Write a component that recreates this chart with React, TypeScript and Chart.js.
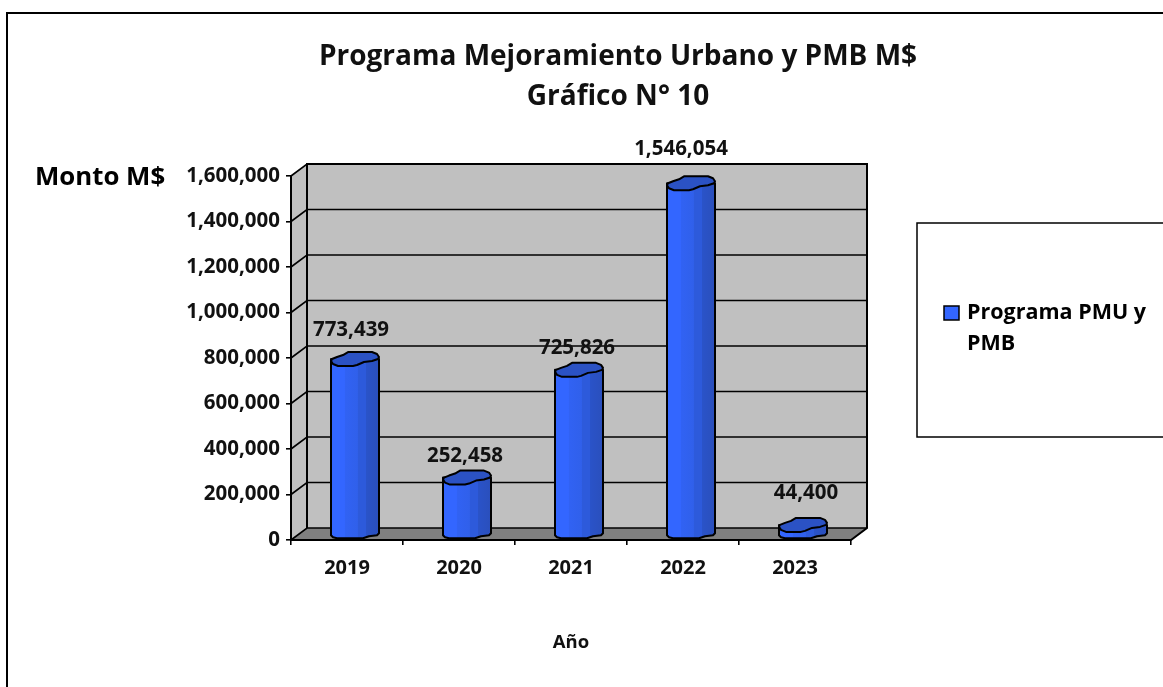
import React, { useEffect, useRef } from "react";
import { Chart, registerables } from "chart.js";

Chart.register(...registerables);

const categories = ["2019", "2020", "2021", "2022", "2023"];
const seriesName = ["Programa PMU y", "PMB"];
const values = [773439, 252458, 725826, 1546054, 44400];
const titleLines = ["Programa Mejoramiento Urbano y PMB M$", "Gráfico N° 10"];
const yTitle = "Monto M$";
const xTitle = "Año";
const labelShiftX = [-4, -2, -2, -10, 3];
const labelShiftY = [-34, -26, -27, -39, -37];

const FONT = "'Open Sans'";
const DX = 16;
const DY = 12;
const CYL_LIFT = 5;
const topShape: [number, number][] = [
  [-24, 2], [-23, 0], [-18, -2], [-12, -4], [-7, -7], [17, -7], [22, -5], [24, -2], [23, 0], [17, 2], [9, 3], [2, 6], [-2, 7], [-17, 7], [-22, 5],
];
const baseShape: [number, number][] = [
  [-24, 1], [-22, 3], [-18, 4], [8, 4], [14, 2], [22, 1], [24, -1],
];
const bodyStops: [number, string][] = [
  [0, "#3366FF"], [0.28, "#3366FF"], [0.3, "#3162F3"], [0.55, "#3060EB"], [0.57, "#2D5ADB"], [0.72, "#2D5ADB"], [0.74, "#2A53C8"], [1, "#2A4FBC"],
];

const scenePlugin = {
  id: "scene",
  afterLayout(chart: any) {
    chart.titleBlock.left = 73;
    chart.titleBlock.right = 1163;
  },
  beforeDraw(chart: any) {
    const { ctx, scales, width, height } = chart;
    const y = scales.y;
    const a = chart.chartArea;
    ctx.save();
    ctx.fillStyle = "#fff";
    ctx.fillRect(0, 0, width, height);
    ctx.strokeStyle = "#000";
    ctx.lineWidth = 2;
    ctx.beginPath();
    ctx.moveTo(7, height);
    ctx.lineTo(7, 13);
    ctx.lineTo(width, 13);
    ctx.stroke();

    // side wall, back wall, floor
    ctx.fillStyle = "#C0C0C0";
    ctx.beginPath();
    ctx.moveTo(a.left, a.bottom);
    ctx.lineTo(a.left, a.top);
    ctx.lineTo(a.left + DX, a.top - DY);
    ctx.lineTo(a.right + DX, a.top - DY);
    ctx.lineTo(a.right + DX, a.bottom - DY);
    ctx.lineTo(a.right, a.bottom);
    ctx.closePath();
    ctx.fill();
    ctx.fillStyle = "#808080";
    ctx.beginPath();
    ctx.moveTo(a.left, a.bottom);
    ctx.lineTo(a.left + DX, a.bottom - DY);
    ctx.lineTo(a.right + DX, a.bottom - DY);
    ctx.lineTo(a.right, a.bottom);
    ctx.closePath();
    ctx.fill();

    ctx.lineWidth = 1.6;
    for (const t of y.ticks) {
      const py = y.getPixelForValue(t.value);
      ctx.beginPath();
      ctx.moveTo(a.left, py);
      ctx.lineTo(a.left + DX, py - DY);
      ctx.lineTo(a.right + DX, py - DY);
      ctx.stroke();
    }
    ctx.lineWidth = 2;
    ctx.beginPath();
    ctx.moveTo(a.left + DX, a.bottom - DY);
    ctx.lineTo(a.left + DX, a.top - DY);
    ctx.lineTo(a.right + DX, a.top - DY);
    ctx.lineTo(a.right + DX, a.bottom - DY);
    ctx.lineTo(a.right, a.bottom);
    ctx.lineTo(a.left, a.bottom);
    ctx.stroke();
    ctx.restore();
  },
  beforeDatasetDraw(chart: any, args: any) {
    const { ctx } = chart;
    const meta = chart.getDatasetMeta(args.index);
    meta.data.forEach((el: any) => {
      const cx = el.x + DX / 2;
      const r = el.width / 2;
      const topY = el.y - CYL_LIFT;
      const baseY = el.base - CYL_LIFT;
      const k = r / 24;
      const grad = ctx.createLinearGradient(cx - r, 0, cx + r, 0);
      bodyStops.forEach(([o, c]) => grad.addColorStop(o, c));
      ctx.save();
      ctx.lineJoin = "round";
      ctx.strokeStyle = "#000";
      ctx.lineWidth = 2;
      ctx.fillStyle = grad;
      ctx.beginPath();
      ctx.moveTo(cx - r, topY);
      ctx.lineTo(cx + r, topY);
      baseShape.slice().reverse().forEach(([px, py]) => ctx.lineTo(cx + px * k, baseY + py));
      ctx.closePath();
      ctx.fill();
      ctx.stroke();
      ctx.fillStyle = "#2B52C4";
      ctx.beginPath();
      topShape.forEach(([px, py], i) => {
        if (i === 0) ctx.moveTo(cx + px * k, topY + py);
        else ctx.lineTo(cx + px * k, topY + py);
      });
      ctx.closePath();
      ctx.fill();
      ctx.stroke();
      ctx.restore();
    });
    return false;
  },
  afterDatasetsDraw(chart: any) {
    const { ctx } = chart;
    const meta = chart.getDatasetMeta(0);
    ctx.save();
    ctx.fillStyle = "#111";
    ctx.font = `bold 20.5px ${FONT}`;
    ctx.textAlign = "center";
    ctx.textBaseline = "middle";
    meta.data.forEach((el: any, i: number) => {
      const text = values[i].toLocaleString("en-US");
      ctx.fillText(text, el.x + DX / 2 + labelShiftX[i], el.y + labelShiftY[i]);
    });
    ctx.restore();
  },
  afterDraw(chart: any) {
    const { ctx, width } = chart;
    const a = chart.chartArea;
    ctx.save();
    ctx.fillStyle = "#000";
    ctx.textBaseline = "middle";
    ctx.textAlign = "left";
    ctx.font = `bold 25.8px ${FONT}`;
    ctx.fillText(yTitle, 35, a.top + 2);

    // legend
    ctx.strokeStyle = "#000";
    ctx.lineWidth = 1.5;
    ctx.beginPath();
    ctx.moveTo(width, 223);
    ctx.lineTo(917, 223);
    ctx.lineTo(917, 437);
    ctx.lineTo(width, 437);
    ctx.stroke();
    ctx.fillStyle = "#3366FF";
    ctx.fillRect(944, 306, 15, 14);
    ctx.lineWidth = 1.5;
    ctx.strokeRect(944, 306, 15, 14);
    ctx.fillStyle = "#000";
    ctx.font = `bold 21.5px ${FONT}`;
    ctx.fillText(seriesName[0], 967, 313);
    ctx.fillText(seriesName[1], 967, 344);
    ctx.restore();
  },
};

export default function App() {
  const ref = useRef<HTMLCanvasElement>(null);
  useEffect(() => {
    const chart = new Chart(ref.current!, {
      type: "bar",
      data: {
        labels: categories,
        datasets: [
          {
            label: seriesName.join(" "),
            data: values,
            backgroundColor: "#3366FF",
            borderColor: "#000",
            barPercentage: 48 / 112,
            categoryPercentage: 1,
          },
        ],
      },
      plugins: [scenePlugin],
      options: {
        responsive: false,
        animation: false,
        layout: { padding: { left: 0, right: 312, top: 0, bottom: 0 } },
        plugins: {
          legend: { display: false },
          tooltip: { enabled: false },
          title: {
            display: true,
            text: titleLines,
            color: "#111",
            font: { family: FONT, size: 28, weight: "bold", lineHeight: 40 / 28 },
            padding: { top: 37, bottom: 59 },
          },
        },
        scales: {
          x: {
            afterFit(scale: any) {
              scale.height = 147;
            },
            border: { display: false },
            grid: { offset: true, drawOnChartArea: false, drawTicks: true, tickLength: 5, color: "#000", lineWidth: 1.6 },
            ticks: { color: "#111", padding: 11, font: { family: FONT, size: 20, weight: "bold" }, maxRotation: 0 },
            title: {
              display: true,
              text: xTitle,
              color: "#111",
              font: { family: FONT, size: 18.5, weight: "bold" },
              padding: { top: 0, bottom: 33 },
            },
          },
          y: {
            min: 0,
            max: 1600000,
            afterFit(scale: any) {
              scale.width = 291;
            },
            border: { display: true, color: "#000", width: 2 },
            grid: { drawOnChartArea: false, drawTicks: true, tickLength: 5, color: "#000", lineWidth: 1.6 },
            ticks: {
              stepSize: 200000,
              color: "#111",
              padding: 6,
              font: { family: FONT, size: 20.5, weight: "bold" },
              callback: (v: any) => Number(v).toLocaleString("en-US"),
            },
          },
        },
      },
    } as any);
    return () => chart.destroy();
  }, []);
  return (
    <canvas
      ref={ref}
      width={1163}
      height={687}
      style={{ position: "fixed", left: 0, top: 0, display: "block" }}
    />
  );
}
